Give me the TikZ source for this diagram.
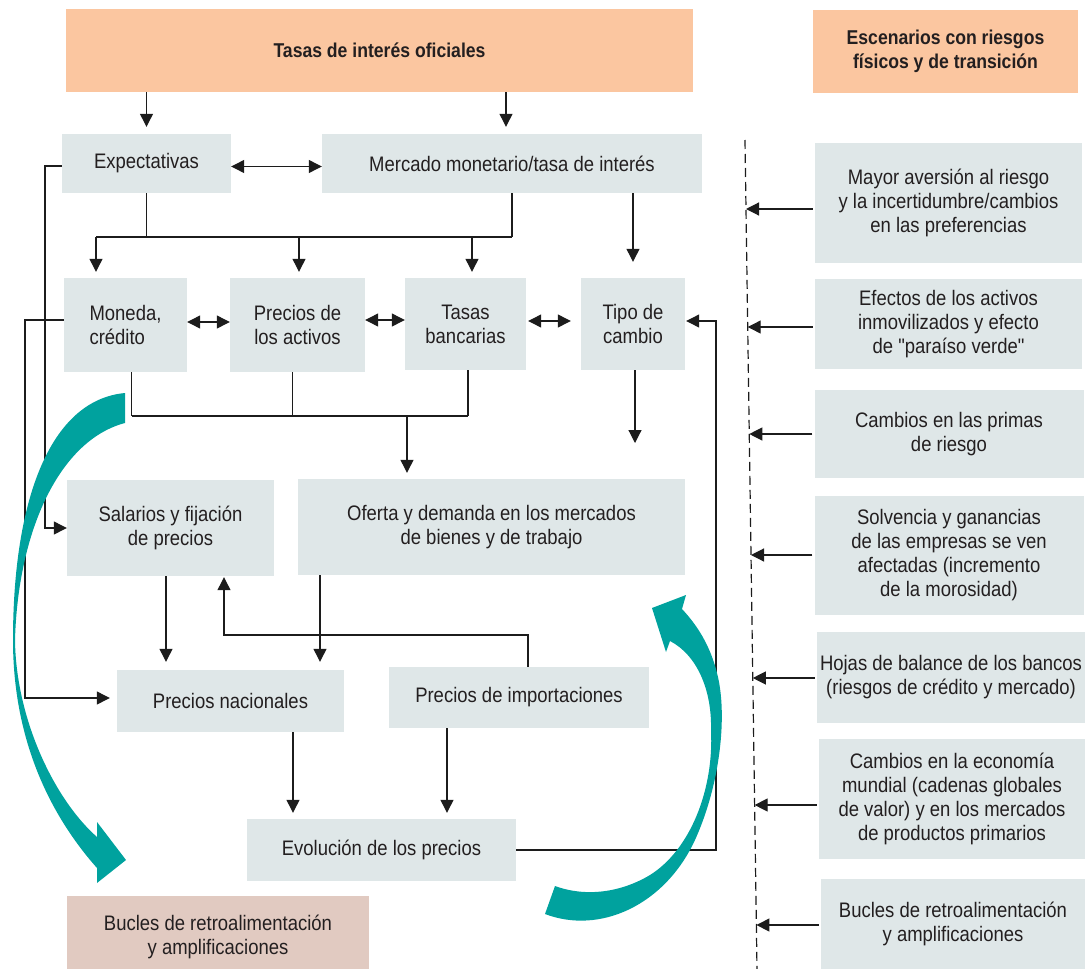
\documentclass[tikz,border=0pt]{standalone}
\usepackage{fontspec}
\setmainfont{Liberation Sans}[FakeStretch=0.88]
\newfontfamily\nomap{Liberation Sans}[FakeStretch=0.88]
\usetikzlibrary{arrows.meta,calc}
\definecolor{boxgray}{HTML}{DFE7E8}
\definecolor{peach}{HTML}{FBC6A0}
\definecolor{pinkish}{HTML}{E1CAC1}
\definecolor{tealc}{HTML}{00A29E}
\definecolor{linec}{HTML}{1C1C1C}
\definecolor{txtc}{HTML}{231F20}
\begin{document}
\begin{tikzpicture}[x=1pt,y=-1pt,
  box/.style={fill=boxgray, inner sep=0pt, align=center, text=txtc, font=\fontsize{21}{24}\selectfont},
  hdr/.style={fill=peach, inner sep=0pt, align=center, text=txtc, font=\fontsize{20}{24}\selectfont\bfseries},
  conn/.style={draw=linec, line width=1.2pt},
  arr/.style={conn, -{Triangle[length=13pt,width=13pt]}},
  darr/.style={conn, {Triangle[length=13pt,width=13pt]}-{Triangle[length=13pt,width=13pt]}}
]
\useasboundingbox (0,0) rectangle (1087,969);

% ---------- headers ----------
\node[hdr, minimum width=627pt, minimum height=83pt] (top) at (379.5,50.5) {Tasas de interés oficiales};
\node[hdr, minimum width=265pt, minimum height=83pt] (scen) at (945.5,51.5) {Escenarios con riesgos\\físicos y de transición};

% ---------- left diagram boxes ----------
\node[box, minimum width=169pt, minimum height=59pt] (expect) at (146.5,163.5) {Expectativas};
\node[box, minimum width=380pt, minimum height=59pt] (merc) at (512,163.5) {Mercado monetario/tasa de interés};
\node[box, minimum width=123pt, minimum height=94pt, align=left] (mon) at (125.5,325) {Moneda,\\crédito};
\node[box, minimum width=135pt, minimum height=94pt] (pact) at (297.5,325) {Precios de\\los activos};
\node[box, minimum width=121pt, minimum height=92pt] (tban) at (465.5,324) {Tasas\\bancarias};
\node[box, minimum width=104pt, minimum height=92pt] (tcam) at (633,324) {Tipo de\\cambio};
\node[box, minimum width=207pt, minimum height=96pt] (sal) at (170.5,528) {Salarios y fijación\\de precios};
\node[box, minimum width=387pt, minimum height=96pt] (ofe) at (491.5,527) {Oferta y demanda en los mercados\\de bienes y de trabajo};
\node[box, minimum width=227pt, minimum height=62pt] (pnac) at (230.5,701) {Precios nacionales};
\node[box, minimum width=260pt, minimum height=61pt] (pimp) at (519,697.5) {Precios de importaciones};
\node[box, minimum width=269pt, minimum height=62pt] (evo) at (381.5,850) {Evolución de los precios};
\node[box, fill=pinkish, minimum width=302pt, minimum height=81pt] (bucl) at (218,936.5) {Bucles de retroalimentación\\y amplificaciones};

% ---------- right column boxes ----------
\node[box, minimum width=267pt, minimum height=120pt] (r1) at (948.5,203) {Mayor aversión al riesgo\\y la incertidumbre/cambios\\en las preferencias};
\node[box, minimum width=267pt, minimum height=90pt] (r2) at (948.5,324) {Efectos de los activos\\inmovilizados y efecto\\de {\nomap"}paraíso verde{\nomap"}};
\node[box, minimum width=269pt, minimum height=88pt] (r3) at (949,434) {Cambios en las primas\\de riesgo};
\node[box, minimum width=269pt, minimum height=119pt] (r4) at (949,555.5) {Solvencia y ganancias\\de las empresas se ven\\afectadas (incremento\\de la morosidad)};
\node[box, minimum width=268pt, minimum height=91pt] (r5) at (951,677.5) {Hojas de balance de los bancos\\(riesgos de crédito y mercado)};
\node[box, minimum width=266pt, minimum height=120pt] (r6) at (952,799) {Cambios en la economía\\mundial (cadenas globales\\de valor) y en los mercados\\de productos primarios};
\node[box, minimum width=264pt, minimum height=90pt] (r7) at (953,924) {Bucles de retroalimentación\\y amplificaciones};

% ---------- helper coordinates ----------
\coordinate (hb) at (0,237);
\coordinate (hm) at (0,416);
\coordinate (ph) at (0,635);
\coordinate (lx1) at (25,0);
\coordinate (lx2) at (45,0);
\coordinate (ret) at (716,0);
\coordinate (tcend) at (635,443);

% ---------- connectors ----------
\draw[arr] (expect.north |- top.south) -- ([yshift=7pt]expect.north);
\draw[arr] ([xshift=-6pt]merc.north |- top.south) -- ([xshift=-6pt,yshift=7pt]merc.north);
\draw[darr] ([yshift=-3pt]expect.east) -- ([yshift=-3pt]merc.west);

\draw[conn] (expect.south) -- (expect.south |- hb);
\draw[conn] (merc.south) -- (merc.south |- hb);
\draw[conn] ([xshift=-29.5pt]mon.north |- hb) -- (merc.south |- hb);
\draw[arr] ([xshift=-29.5pt]mon.north |- hb) -- ([xshift=-29.5pt,yshift=6pt]mon.north);
\draw[arr] ([xshift=1.5pt]pact.north |- hb) -- ([xshift=1.5pt,yshift=6pt]pact.north);
\draw[arr] ([xshift=6.5pt]tban.north |- hb) -- ([xshift=6.5pt,yshift=6pt]tban.north);
\draw[arr] (tcam.north |- merc.south) -- ([yshift=16pt]tcam.north);

\draw[darr] ([yshift=3pt]mon.east) -- ([yshift=3pt]pact.west);
\draw[darr] ([yshift=5pt]pact.east) -- ([yshift=4pt]tban.west);
\draw[darr] ([xshift=2pt,yshift=3pt]tban.east) -- ([xshift=-10pt,yshift=3pt]tcam.west);

\draw[conn] ([xshift=6pt]mon.south) -- ([xshift=6pt]mon.south |- hm);
\draw[conn] ([xshift=-5pt]pact.south) -- ([xshift=-5pt]pact.south |- hm);
\draw[conn] ([xshift=2.5pt]tban.south) -- ([xshift=2.5pt]tban.south |- hm);
\draw[conn] ([xshift=6pt]mon.south |- hm) -- ([xshift=2.5pt]tban.south |- hm);
\draw[arr] ([xshift=-84.5pt]ofe.north |- hm) -- ([xshift=-84.5pt,yshift=6pt]ofe.north);
\draw[arr] ([xshift=2pt]tcam.south) -- (tcend);

\draw[arr] (evo.east) -- (evo.east -| ret) |- ([xshift=1pt,yshift=3pt]tcam.east);

\draw[arr] ([yshift=-2.5pt]expect.west) -- ([yshift=-2.5pt]expect.west -| lx2) |- (sal.west);
\draw[arr] ([yshift=5pt]mon.west) -- ([yshift=5pt]mon.west -| lx1) |- ([xshift=-7pt,yshift=3pt]pnac.west);

\draw[arr] ([xshift=-64.5pt]pnac.north |- sal.south) -- ([xshift=-64.5pt,yshift=8pt]pnac.north);
\draw[arr] ([xshift=89.5pt]pnac.north |- ofe.south) -- ([xshift=89.5pt,yshift=8pt]pnac.north);
\draw[arr] ([xshift=9pt]pimp.north) -- ([xshift=9pt]pimp.north |- ph) -| ([xshift=53.5pt,yshift=-1pt]sal.south);
\draw[arr] ([xshift=-88.5pt]evo.north |- pnac.south) -- ([xshift=-88.5pt,yshift=6pt]evo.north);
\draw[arr] ([xshift=65.5pt]evo.north |- pimp.south) -- ([xshift=65.5pt,yshift=6pt]evo.north);

% ---------- dashed divider and right arrows ----------
\coordinate (dtop) at (745,140);
\coordinate (dbot) at (757,969);
\draw[conn, dash pattern=on 9pt off 5pt] (dtop) -- (dbot);
\coordinate (d1) at (746.0,209);
\coordinate (d2) at (747.7,327);
\coordinate (d3) at (749.3,434);
\coordinate (d4) at (751.0,555);
\coordinate (d5) at (752.8,678);
\coordinate (d6) at (754.6,805);
\coordinate (d7) at (756.4,925);
\draw[arr] ([xshift=-2pt]d1 -| r1.west) -- (d1);
\draw[arr] ([xshift=-2pt]d2 -| r2.west) -- (d2);
\draw[arr] ([xshift=-2pt]d3 -| r3.west) -- (d3);
\draw[arr] ([xshift=-2pt]d4 -| r4.west) -- (d4);
\draw[arr] ([xshift=-2pt]d5 -| r5.west) -- (d5);
\draw[arr] ([xshift=-2pt]d6 -| r6.west) -- (d6);
\draw[arr] ([xshift=-2pt]d7 -| r7.west) -- (d7);

% ---------- teal loop arrows ----------
\fill[tealc] (125,393) .. controls (50,400) and (13,500) .. (13,640)
  .. controls (13,740) and (50,815) .. (97,868)
  -- (97,883) -- (126,860) -- (97,822) -- (97,837)
  .. controls (55,800) and (16,720) .. (15,640)
  .. controls (18,530) and (60,440) .. (125,423) -- cycle;
\fill[tealc] (545,914) .. controls (600,935) and (665,905) .. (695,840)
  .. controls (720,785) and (728,715) .. (717,673)
  .. controls (710,645) and (697,625) .. (682,609)
  -- (686,595) -- (652,608) -- (666,652) -- (670,641)
  .. controls (697,655) and (712,690) .. (711,730)
  .. controls (714,790) and (690,850) .. (650,875)
  .. controls (620,893) and (585,897) .. (555,886) -- cycle;
\end{tikzpicture}
\end{document}
